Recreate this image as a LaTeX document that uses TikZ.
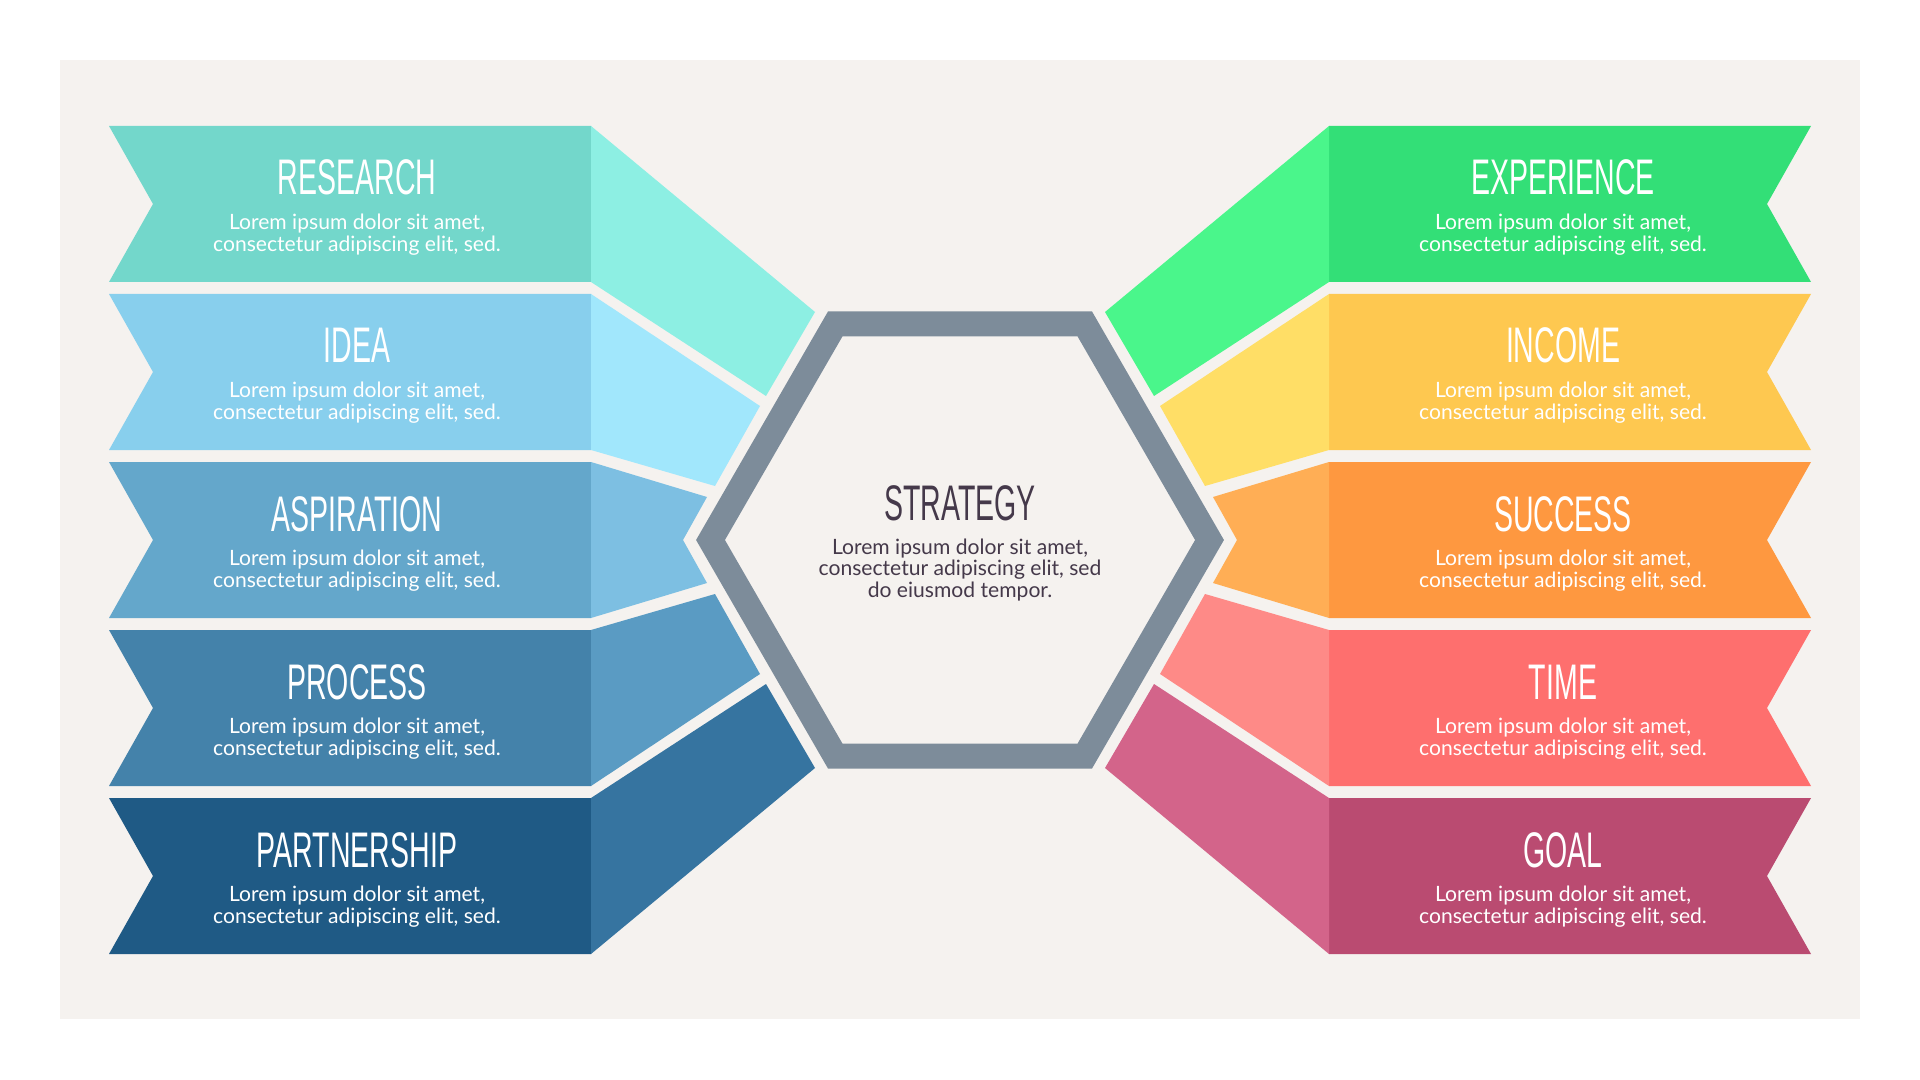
\documentclass[tikz,border=0pt]{standalone}
\usepackage{fontspec}
\setmainfont{Lato}
\newfontfamily\headfont[FakeStretch=0.57]{Liberation Sans}
\usepackage{xcolor}
\usetikzlibrary{positioning}
\definecolor{paper}{HTML}{F5F2EF}
\definecolor{hexgray}{HTML}{7D8C9A}
\definecolor{inktext}{HTML}{45394A}
\definecolor{research}{HTML}{73D7CB}
\definecolor{researchflap}{HTML}{8DEFE3}
\definecolor{idea}{HTML}{88CFED}
\definecolor{ideaflap}{HTML}{A1E7FC}
\definecolor{aspiration}{HTML}{64A7CB}
\definecolor{aspirationflap}{HTML}{7DBFE2}
\definecolor{process}{HTML}{4482AA}
\definecolor{processflap}{HTML}{5A9BC3}
\definecolor{partnership}{HTML}{1F5A85}
\definecolor{partnershipflap}{HTML}{3674A0}
\definecolor{experience}{HTML}{33DF77}
\definecolor{experienceflap}{HTML}{4AF68B}
\definecolor{income}{HTML}{FEC850}
\definecolor{incomeflap}{HTML}{FFDE66}
\definecolor{success}{HTML}{FE9840}
\definecolor{successflap}{HTML}{FFAE55}
\definecolor{time}{HTML}{FE6F6E}
\definecolor{timeflap}{HTML}{FE8A87}
\definecolor{goal}{HTML}{BA4B71}
\definecolor{goalflap}{HTML}{D3648A}

\begin{document}
\begin{tikzpicture}[
    x=0.5pt, y=-0.5pt,
    head/.style={font=\headfont\fontsize{25}{25}\selectfont, text=white, anchor=base, inner sep=0pt},
    body/.style={font=\fontsize{10.55}{10.9}\selectfont, text=white, align=center, inner sep=0pt},
    hexring/.style={draw=hexgray, line width=12.5pt, line join=miter}
]
% Page and background
\fill[white] (0,0) rectangle (1920,1080);
\useasboundingbox (0,0) rectangle (1920,1080);
\fill[paper] (60,60) rectangle (1860,1019);

% Left banners
\fill[research] (109,126) -- (591,126) -- (591,282) -- (109,282) -- (153,204) -- cycle;
\fill[researchflap] (591,126) -- (815,312) -- (766,396) -- (591,282) -- cycle;
\fill[idea] (109,294) -- (591,294) -- (591,450) -- (109,450) -- (153,372) -- cycle;
\fill[ideaflap] (591,294) -- (760,406) -- (715,486) -- (591,450) -- cycle;
\fill[aspiration] (109,462) -- (591,462) -- (591,618) -- (109,618) -- (153,540) -- cycle;
\fill[aspirationflap] (591,462) -- (707,497) -- (683,540) -- (707,583) -- (591,618) -- cycle;
\fill[process] (109,630) -- (591,630) -- (591,786) -- (109,786) -- (153,708) -- cycle;
\fill[processflap] (591,630) -- (715,594) -- (760,674) -- (591,786) -- cycle;
\fill[partnership] (109,798) -- (591,798) -- (591,954) -- (109,954) -- (153,876) -- cycle;
\fill[partnershipflap] (591,798) -- (766,684) -- (815,768) -- (591,954) -- cycle;

% Right banners
\fill[experience] (1329,126) -- (1811,126) -- (1767,204) -- (1811,282) -- (1329,282) -- cycle;
\fill[experienceflap] (1329,126) -- (1105,312) -- (1154,396) -- (1329,282) -- cycle;
\fill[income] (1329,294) -- (1811,294) -- (1767,372) -- (1811,450) -- (1329,450) -- cycle;
\fill[incomeflap] (1329,294) -- (1160,406) -- (1205,486) -- (1329,450) -- cycle;
\fill[success] (1329,462) -- (1811,462) -- (1767,540) -- (1811,618) -- (1329,618) -- cycle;
\fill[successflap] (1329,462) -- (1213,497) -- (1237,540) -- (1213,583) -- (1329,618) -- cycle;
\fill[time] (1329,630) -- (1811,630) -- (1767,708) -- (1811,786) -- (1329,786) -- cycle;
\fill[timeflap] (1329,630) -- (1205,594) -- (1160,674) -- (1329,786) -- cycle;
\fill[goal] (1329,798) -- (1811,798) -- (1767,876) -- (1811,954) -- (1329,954) -- cycle;
\fill[goalflap] (1329,798) -- (1154,684) -- (1105,768) -- (1329,954) -- cycle;

% Hexagon
\draw[hexring] (1209.5,540) -- (1084.75,323.9) -- (835.25,323.9) -- (710.5,540) -- (835.25,756.1) -- (1084.75,756.1) -- cycle;

% Labels left
\node[head] (research) at (357,195) {RESEARCH};
\node[body] (research-txt) at (357,235) {Lorem ipsum dolor sit amet,\\consectetur adipiscing elit, sed.};
\node[head] (idea) at (357,363) {IDEA};
\node[body] (idea-txt) at (357,403) {Lorem ipsum dolor sit amet,\\consectetur adipiscing elit, sed.};
\node[head] (aspiration) at (357,531) {ASPIRATION};
\node[body] (aspiration-txt) at (357,571) {Lorem ipsum dolor sit amet,\\consectetur adipiscing elit, sed.};
\node[head] (process) at (357,699) {PROCESS};
\node[body] (process-txt) at (357,739) {Lorem ipsum dolor sit amet,\\consectetur adipiscing elit, sed.};
\node[head] (partnership) at (357,867) {PARTNERSHIP};
\node[body] (partnership-txt) at (357,907) {Lorem ipsum dolor sit amet,\\consectetur adipiscing elit, sed.};

% Labels right
\node[head] (experience) at (1563,195) {EXPERIENCE};
\node[body] (experience-txt) at (1563,235) {Lorem ipsum dolor sit amet,\\consectetur adipiscing elit, sed.};
\node[head] (income) at (1563,363) {INCOME};
\node[body] (income-txt) at (1563,403) {Lorem ipsum dolor sit amet,\\consectetur adipiscing elit, sed.};
\node[head] (success) at (1563,531) {SUCCESS};
\node[body] (success-txt) at (1563,571) {Lorem ipsum dolor sit amet,\\consectetur adipiscing elit, sed.};
\node[head] (time) at (1563,699) {TIME};
\node[body] (time-txt) at (1563,739) {Lorem ipsum dolor sit amet,\\consectetur adipiscing elit, sed.};
\node[head] (goal) at (1563,867) {GOAL};
\node[body] (goal-txt) at (1563,907) {Lorem ipsum dolor sit amet,\\consectetur adipiscing elit, sed.};

% Center
\node[head, text=inktext] (strategy) at (960,520) {STRATEGY};
\node[body, text=inktext] (strategy-txt) at (960,570) {Lorem ipsum dolor sit amet,\\consectetur adipiscing elit, sed\\do eiusmod tempor.};

\end{tikzpicture}
\end{document}
